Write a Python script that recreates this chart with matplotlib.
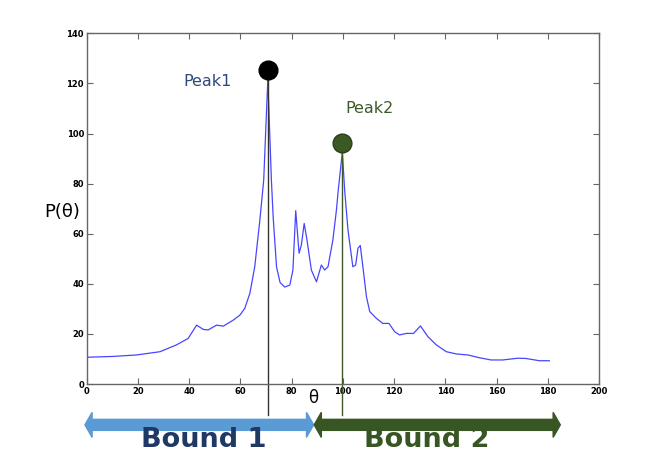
import matplotlib.pyplot as plt
from matplotlib.patches import Polygon
import numpy as np

# curve (theta, P)
theta = [0.6, 10, 19.5, 28.6, 35, 39.6, 42.9, 45.5, 47.4, 50.7, 53.3, 57.2, 59.8, 61.7,
         63.7, 65.6, 67.6, 69.1, 70.7, 72.1, 72.8, 74.1, 75.5, 77.3, 79.3, 80.5, 81.6,
         82.9, 83.8, 84.9, 86.0, 87.7, 89.7, 91.6, 92.9, 94.2, 96.1, 97.5, 98.2, 99.8,
         100.7, 102.0, 103.9, 105.0, 105.9, 106.8, 107.8, 109.2, 110.5, 113.1, 115.6,
         118.0, 120.2, 122.1, 124.8, 127.6, 130.3, 133.2, 136.5, 140.4, 144.3, 148.8,
         153.3, 157.9, 162.4, 168.3, 171.5, 176.7, 180.6]
power = [10.7, 11.0, 11.6, 12.9, 15.6, 18.2, 23.5, 21.8, 21.6, 23.5, 23.1, 25.5, 27.5, 30.2,
         36.2, 46.8, 65.5, 81.4, 121.5, 81.4, 66.5, 46.8, 40.5, 38.7, 39.5, 45.5, 69.2,
         52.2, 55.5, 64.1, 57.5, 45.5, 40.8, 47.5, 45.5, 46.8, 57.5, 69.5, 77.4, 92.5,
         77.4, 61.5, 46.8, 47.5, 54.2, 55.3, 47.0, 34.9, 28.9, 26.2, 24.2,
         24.2, 20.9, 19.6, 20.2, 20.2, 23.2, 18.9, 15.6, 12.9, 12.0, 11.6,
         10.5, 9.6, 9.6, 10.3, 10.2, 9.3, 9.3]

peaks_x = [70.7, 99.8]
peaks_y = [125.5, 96.3]
peak_names = ['Peak1', 'Peak2']
bounds = [(-0.7, 88.6), (88.8, 184.9)]
bound_names = ['Bound 1', 'Bound 2']

fig = plt.figure(figsize=(6.64, 4.55), dpi=100)
ax = fig.add_axes([0.1306, 0.156, 0.7715, 0.7708])

ax.plot(theta, power, color='#4646ff', lw=0.9)

# vertical lines from each peak down past the axis
ax.plot([peaks_x[0], peaks_x[0]], [-12.4, peaks_y[0]], color='#333333', lw=1, clip_on=False)
ax.plot([peaks_x[1], peaks_x[1]], [-12.4, peaks_y[1]], color='#3d5a2a', lw=1, clip_on=False)
ax.plot(peaks_x[0], peaks_y[0], 'o', ms=13.5, color='black', clip_on=False, zorder=5)
ax.plot(peaks_x[1], peaks_y[1], 'o', ms=13.5, color='#3b5a23', mec='#2a3f18', clip_on=False, zorder=5)

ax.text(47.3, 120.6, peak_names[0], color='#2e4a7a', fontsize=11.5, ha='center', va='center')
ax.text(110.3, 110.0, peak_names[1], color='#3d5a2a', fontsize=11.5, ha='center', va='center')

ax.set_xlim(0, 200)
ax.set_ylim(0, 140)
ax.set_xticks(np.arange(0, 201, 20))
ax.set_yticks(np.arange(0, 141, 20))
ax.tick_params(direction='in', length=4, width=0.8, color='#666666', top=True, right=True,
               labelsize=6, pad=2)
for lab in ax.get_xticklabels() + ax.get_yticklabels():
    lab.set_fontweight('bold')
for s in ax.spines.values():
    s.set_color('#666666')
    s.set_linewidth(1)

fig.text(61.7 / 664, 1 - 211.7 / 455, 'P(θ)', fontsize=13, ha='center', va='center')
fig.text(312.7 / 664, 1 - 398.3 / 455, 'θ', fontsize=12, ha='center', va='center')

# double headed arrows under the axis
yc, sh, hh, hl = -16.3, 2.2, 5.0, 2.8
arrow_cols = ['#5b9bd5', '#375623']
text_cols = ['#1f3864', '#375623']
for (x0, x1), name, ac, tc in zip(bounds, bound_names, arrow_cols, text_cols):
    pts = [(x0, yc), (x0 + hl, yc + hh), (x0 + hl, yc + sh), (x1 - hl, yc + sh),
           (x1 - hl, yc + hh), (x1, yc), (x1 - hl, yc - hh), (x1 - hl, yc - sh),
           (x0 + hl, yc - sh), (x0 + hl, yc - hh)]
    ax.add_patch(Polygon(pts, closed=True, color=ac, clip_on=False))

fig.text(204 / 664, 1 - 440 / 455, bound_names[0], fontsize=19.5, fontweight='bold',
         color=text_cols[0], ha='center', va='center')
fig.text(427 / 664, 1 - 440 / 455, bound_names[1], fontsize=19.5, fontweight='bold',
         color=text_cols[1], ha='center', va='center')

fig.savefig('out.png', dpi=100)
